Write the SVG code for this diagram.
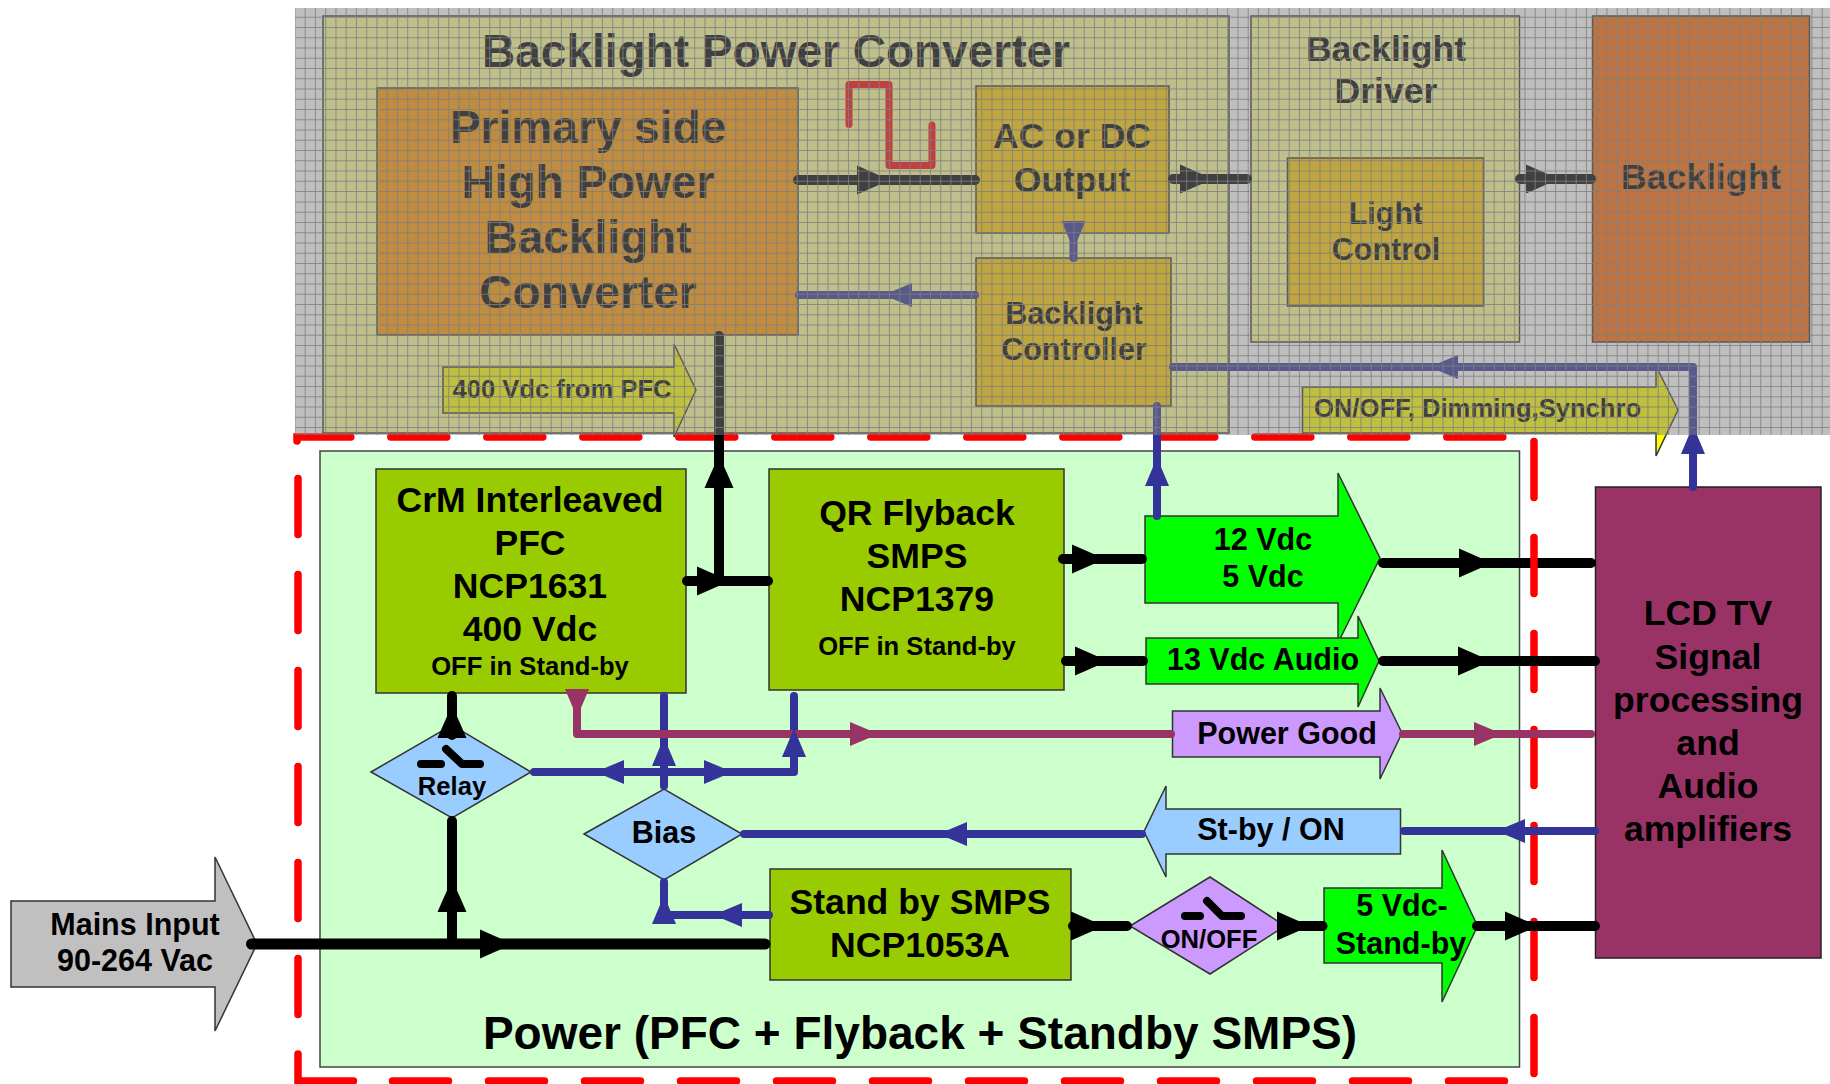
<svg xmlns="http://www.w3.org/2000/svg" width="1830" height="1084" viewBox="0 0 1830 1084">
<style>
text{font-family:"Liberation Sans",Arial,sans-serif;font-weight:bold;text-anchor:middle;fill:#000}
.s46{font-size:46px}.s36{font-size:35.6px}.s30{font-size:30.5px}.s25{font-size:25.6px}
.b{stroke:#333;stroke-width:1.5}
.frame{fill:none;stroke:#f00;stroke-width:7.5;stroke-linecap:round}
.dash{stroke-dasharray:56 40}
.k,.u,.m,.r,.sw{fill:none;stroke-linecap:round;stroke-linejoin:round}
.k{stroke:#000;stroke-width:10}.u{stroke:#339;stroke-width:8}.m{stroke:#936;stroke-width:8}.r{stroke:#f00;stroke-width:7}
.sw{stroke:#000;stroke-width:8}
.hk{fill:#000}.hu{fill:#339}.hm{fill:#936}
</style>
<defs>
<path id="big" d="M-21,-14.500L12,0L-21,14.500Z"/>
<path id="small" d="M-19,-12L9.500,0L-19,12Z"/>
</defs>
<rect width="1830" height="1084" fill="#fff"/>

<g id="backlight-power-converter">
<rect class="b" x="323" y="16" width="906" height="417" fill="#ffff99"/>
<text class="s46" x="776" y="67">Backlight Power Converter</text>
</g>
<g id="primary-side">
<rect class="b" x="377" y="88" width="421" height="247" fill="#f90"/>
<text class="s46" x="588" y="143">Primary side</text>
<text class="s46" x="588" y="198">High Power</text>
<text class="s46" x="588" y="253">Backlight</text>
<text class="s46" x="588" y="308">Converter</text>
</g>
<g id="ac-dc-output">
<rect class="b" x="976" y="86" width="193" height="147" fill="#fc0"/>
<text class="s36" x="1072" y="148">AC or DC</text>
<text class="s36" x="1072" y="192">Output</text>
</g>
<g id="backlight-controller">
<rect class="b" x="976" y="258" width="195" height="148" fill="#fc0"/>
<text class="s30" x="1074" y="324">Backlight</text>
<text class="s30" x="1074" y="360">Controller</text>
</g>
<g id="from-pfc-arrow">
<path class="b" d="M443,367H674V344L696,390L674,437V413H443Z" fill="#ff0"/>
<text class="s25" x="562" y="398">400 Vdc from PFC</text>
</g>
<g id="backlight-driver">
<rect class="b" x="1251" y="16" width="268.500" height="326" fill="#ffff99"/>
<text class="s36" x="1386" y="61">Backlight</text>
<text class="s36" x="1386" y="103">Driver</text>
</g>
<g id="light-control">
<rect class="b" x="1287.500" y="158" width="196" height="148" fill="#fc0"/>
<text class="s30" x="1386" y="224">Light</text>
<text class="s30" x="1386" y="260">Control</text>
</g>
<g id="backlight">
<rect class="b" x="1592.500" y="16" width="217" height="326" fill="#f60"/>
<text class="s36" x="1701" y="189">Backlight</text>
</g>
<g id="on-off-arrow">
<path class="b" d="M1302.500,387H1656V366L1678,410L1656,456V433H1302.500Z" fill="#ff0"/>
<text class="s25" x="1477.500" y="417">ON/OFF, Dimming,Synchro</text>
</g>

<g id="power-panel">
<rect x="320" y="451" width="1199.500" height="616" fill="#cfc" stroke="#444" stroke-width="1.500"/>
<text class="s46" x="920" y="1049">Power (PFC + Flyback + Standby SMPS)</text>
</g>
<g id="mains-input">
<path class="b" d="M11,901H215V857L257,944L215,1031V987H11Z" fill="#c0c0c0" stroke="#000"/>
<text class="s30" x="135" y="935">Mains Input</text>
<text class="s30" x="135" y="971">90-264 Vac</text>
</g>
<g id="pfc">
<rect class="b" x="376" y="469" width="310" height="224" fill="#9c0"/>
<text class="s36" x="530" y="512">CrM Interleaved</text>
<text class="s36" x="530" y="555">PFC</text>
<text class="s36" x="530" y="598">NCP1631</text>
<text class="s36" x="530" y="641">400 Vdc</text>
<text class="s25" x="530" y="675">OFF in Stand-by</text>
</g>
<g id="qr-flyback">
<rect class="b" x="769" y="469" width="295" height="221" fill="#9c0"/>
<text class="s36" x="917" y="525">QR Flyback</text>
<text class="s36" x="917" y="568">SMPS</text>
<text class="s36" x="917" y="611">NCP1379</text>
<text class="s25" x="917" y="655">OFF in Stand-by</text>
</g>
<g id="standby-smps">
<rect class="b" x="770" y="869" width="301" height="111" fill="#9c0"/>
<text class="s36" x="920" y="914">Stand by SMPS</text>
<text class="s36" x="920" y="957">NCP1053A</text>
</g>
<g id="out-12v">
<path class="b" d="M1145,516H1338V473L1380,558L1338,643V603H1145Z" fill="#0f0"/>
<text class="s30" x="1263" y="550">12 Vdc</text>
<text class="s30" x="1263" y="587">5 Vdc</text>
</g>
<g id="out-13v">
<path class="b" d="M1146,638H1358V616L1379,661L1358,707V684H1146Z" fill="#0f0"/>
<text class="s30" x="1263" y="670">13 Vdc Audio</text>
</g>
<g id="power-good">
<path class="b" d="M1172.500,711H1380V688L1402,733L1380,779V757H1172.500Z" fill="#c9f"/>
<text class="s30" x="1287" y="744">Power Good</text>
</g>
<g id="st-by-on">
<path class="b" d="M1400.500,809H1166V786L1144,831.500L1166,877V854H1400.500Z" fill="#9cf"/>
<text class="s30" x="1271" y="840">St-by / ON</text>
</g>
<g id="out-5v">
<path class="b" d="M1324,888H1442V850L1477.500,926L1442,1002V963H1324Z" fill="#0f0"/>
<text class="s30" x="1402" y="916">5 Vdc-</text>
<text class="s30" x="1401" y="954">Stand-by</text>
</g>
<g id="relay">
<path class="b" d="M371,772L452,725L531,772L452,818Z" fill="#9cf"/>
<path class="sw" d="M421,764H441M446,749L462,764H480"/>
<text class="s25" x="452" y="795">Relay</text>
</g>
<g id="bias">
<path class="b" d="M584,834L664,789L742,834L664,880Z" fill="#9cf"/>
<text class="s30" x="664" y="843">Bias</text>
</g>
<g id="on-off-switch">
<path class="b" d="M1130,926L1210,877L1285,926L1210,974Z" fill="#c9f"/>
<path class="sw" d="M1185,916H1200M1207,901L1222,916H1241"/>
<text class="s25" x="1209" y="948">ON/OFF</text>
</g>
<g id="lcd-tv">
<rect x="1595.500" y="487" width="225.500" height="471" fill="#936" stroke="#222" stroke-width="1.500"/>
<text class="s36" x="1708" y="625">LCD TV</text>
<text class="s36" x="1708" y="669">Signal</text>
<text class="s36" x="1708" y="712">processing</text>
<text class="s36" x="1708" y="755">and</text>
<text class="s36" x="1708" y="798">Audio</text>
<text class="s36" x="1708" y="841">amplifiers</text>
</g>

<g id="connectors">
<path class="k" d="M1383,563H1591"/>
<g id="dashed-frame">
<path class="frame" d="M297,441V437H350.800"/>
<path class="frame dash" d="M390.800,437H1503"/>
<path class="frame dash" d="M298,478.500V1015"/>
<path class="frame" d="M298,1054V1081H353.500"/>
<path class="frame dash" d="M392.500,1081H1505"/>
<path class="frame dash" d="M1534,441.500V1074"/>
</g>
<path class="k" d="M798,180H975M1173,179H1247M1520,179H1591"/>
<path class="k" d="M719,336V581M687,581H768"/>
<path class="k" d="M1063,559H1142M1066,661H1143M1383,661H1595"/>
<path class="k" d="M452,696V735M452,821V944"/>
<path class="k" style="stroke-width:11" d="M251.500,944H765"/>
<path class="k" d="M1073,926H1127M1283,926H1322.500M1477,926H1595"/>
<path class="u" d="M799,295H975M1073.500,258V235"/>
<path class="u" d="M1173,367H1693V487M1157,406V516"/>
<path class="u" d="M664,696V786M794,696V772H534"/>
<path class="u" d="M744,834H1142M1404,831H1595"/>
<path class="u" d="M664,882V915H769"/>
<path class="m" d="M577,695V734H1171M1403,734H1591"/>
<path class="r" d="M849,124.500V84.500H889V165.500H932V125"/>
<g class="hk">
<use href="#big" transform="translate(878,180)"/>
<use href="#big" transform="translate(1201,179)"/>
<use href="#big" transform="translate(1547,179)"/>
<use href="#big" transform="translate(719,467) rotate(-90)"/>
<use href="#big" transform="translate(718,581)"/>
<use href="#big" transform="translate(1093,559)"/>
<use href="#big" transform="translate(1096,661)"/>
<use href="#big" transform="translate(1480,563)"/>
<use href="#big" transform="translate(1479,661)"/>
<use href="#big" transform="translate(452,717) rotate(-90)"/>
<use href="#big" transform="translate(452,891) rotate(-90)"/>
<use href="#big" transform="translate(501,944)"/>
<use href="#big" transform="translate(1092,926)"/>
<use href="#big" transform="translate(1298,926)"/>
<use href="#big" transform="translate(1526,926)"/>
</g>
<g class="hu">
<use href="#small" transform="translate(893,295) rotate(180)"/>
<use href="#small" transform="translate(1439,367) rotate(180)"/>
<use href="#small" transform="translate(1073.500,240) rotate(90)"/>
<use href="#small" transform="translate(1693,435) rotate(-90)"/>
<use href="#small" transform="translate(1157,467) rotate(-90)"/>
<use href="#small" transform="translate(664,747) rotate(-90)"/>
<use href="#small" transform="translate(794,738) rotate(-90)"/>
<use href="#small" transform="translate(605,772) rotate(180)"/>
<use href="#small" transform="translate(723,772)"/>
<use href="#small" transform="translate(948,834) rotate(180)"/>
<use href="#small" transform="translate(1506,831) rotate(180)"/>
<use href="#small" transform="translate(664,905) rotate(-90)"/>
<use href="#small" transform="translate(723,915) rotate(180)"/>
</g>
<g class="hm">
<use href="#small" transform="translate(577,708) rotate(90)"/>
<use href="#small" transform="translate(869,734)"/>
<use href="#small" transform="translate(1493,734)"/>
</g>
</g>

<g id="grid-overlay">
<rect x="295" y="8" width="1535" height="427" fill="#808080" fill-opacity=".5"/>
<line x1="295" y1="221.500" x2="1830" y2="221.500" stroke="#808080" stroke-width="427" stroke-opacity=".8" stroke-dasharray="1 9.250" stroke-dashoffset=".55"/>
<line x1="1062.500" y1="8" x2="1062.500" y2="435" stroke="#808080" stroke-width="1535" stroke-opacity=".8" stroke-dasharray="1 9.260" stroke-dashoffset="1.560"/>
</g>
</svg>
